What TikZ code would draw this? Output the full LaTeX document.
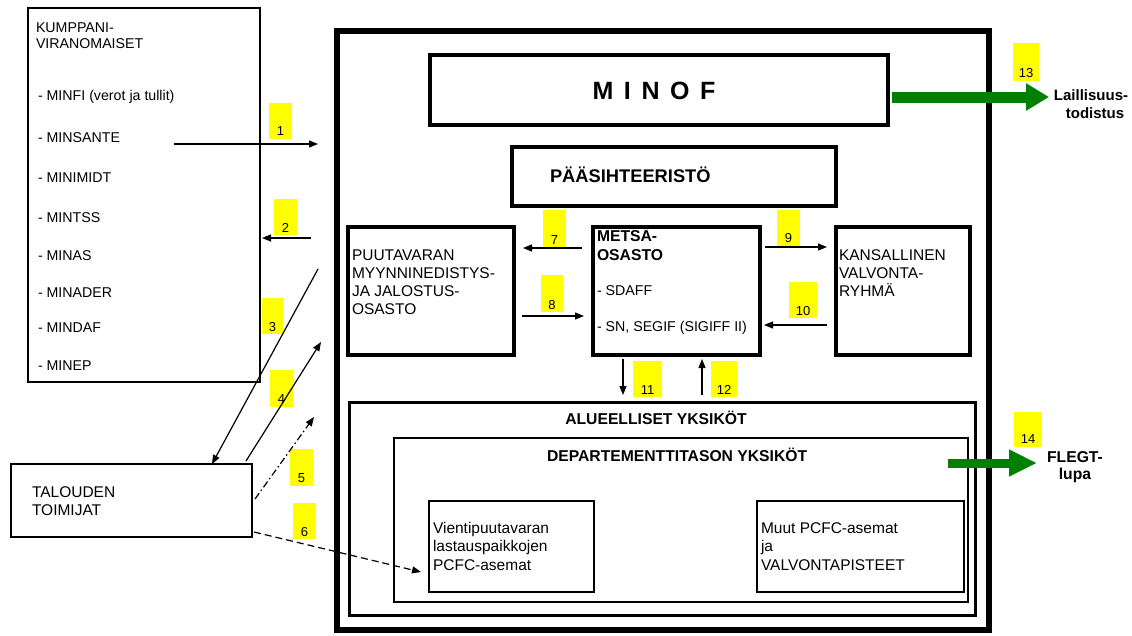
\documentclass[tikz,border=0pt]{standalone}
\usepackage{fontspec}
\setmainfont{Liberation Sans}
\usetikzlibrary{arrows.meta}
\definecolor{lblyellow}{RGB}{255,255,0}
\definecolor{flgreen}{RGB}{0,128,0}
\newcommand\mybx[6]{\node[box,line width=#6,minimum width={#4-#2},minimum height={#5-#3}] (#1) at (#2,#3) {};}
\newcommand\mylbl[6]{\node[lblbox,minimum width={#4-#2},minimum height={#5-#3}] (l#1) at (#2,#3) {};
  \node[numtxt] (n#1) at ({(#2+#4)/2},#6) {#1};}
\begin{document}
\begin{tikzpicture}[x=1pt,y=-1pt,
  box/.style={draw,inner sep=0,outer sep=0,anchor=north west},
  lblbox/.style={fill=lblyellow,draw=none,inner sep=0,outer sep=0,anchor=north west},
  numtxt/.style={inner sep=0,outer sep=0,anchor=base,font=\fontsize{13}{15}\selectfont},
  txt/.style={inner sep=0,outer sep=0,anchor=base west,font=\fontsize{15.5}{18}\selectfont},
  smtxt/.style={inner sep=0,outer sep=0,anchor=base west,font=\fontsize{14.2}{17}\selectfont},
  listtxt/.style={inner sep=0,outer sep=0,anchor=base west,font=\fontsize{14.2}{17}\selectfont},
  btxt/.style={inner sep=0,outer sep=0,anchor=base west,font=\fontsize{15.7}{18}\selectfont\bfseries},
  ctxt/.style={inner sep=0,outer sep=0,anchor=base,font=\fontsize{15.5}{18}\selectfont\bfseries},
  arr/.style={line width=1.2pt,-{Triangle[length=9pt,width=7pt]}},
  dasharr/.style={arr,dash pattern=on 7pt off 4pt},
  dotdasharr/.style={arr,dash pattern=on 7pt off 3pt on 1.5pt off 3pt},
]
\useasboundingbox (0,0) rectangle (1132,635);
% boxes
\mybx{kump}{28}{8}{260}{382}{1.2pt}
\mybx{outer}{337}{31}{989}{630}{5.5pt}
\mybx{minof}{430}{55}{888}{125}{4.5pt}
\mybx{paasi}{512}{147}{836}{206}{4pt}
\mybx{puu}{348}{227}{514}{355}{3.5pt}
\mybx{metsa}{593}{227}{760}{355}{3.5pt}
\mybx{kans}{836}{227}{970}{355}{3.5pt}
\mybx{alue}{349}{402}{975}{615}{3pt}
\mybx{dept}{394}{438}{968}{602}{2pt}
\mybx{vienti}{429}{501}{594}{592}{2pt}
\mybx{muut}{757}{501}{964}{592}{2pt}
\mybx{talo}{11}{464}{252}{537}{2pt}
% left list
\node[listtxt] (k1) at (36,32) {KUMPPANI-};
\node[listtxt] (k2) at (36,48) {VIRANOMAISET};
\node[listtxt] (k3) at (38,100) {- MINFI (verot ja tullit)};
\node[listtxt] (k4) at (38,142) {- MINSANTE};
\node[listtxt] (k5) at (38,182) {- MINIMIDT};
\node[listtxt] (k6) at (38,222) {- MINTSS};
\node[listtxt] (k7) at (38,260) {- MINAS};
\node[listtxt] (k8) at (38,297) {- MINADER};
\node[listtxt] (k9) at (38,332) {- MINDAF};
\node[listtxt] (k10) at (38,370) {- MINEP};
% main texts
\node[inner sep=0,outer sep=0,anchor=center,font=\fontsize{25}{28}\selectfont\bfseries] (tminof) at (654,91)
  {M\hspace{10.6pt}I\hspace{10.6pt}N\hspace{10.6pt}O\hspace{10.6pt}F};
\node[btxt,font=\fontsize{18.3}{20}\selectfont\bfseries] (tpaasi) at (550,182) {PÄÄSIHTEERISTÖ};
\node[btxt] (tm1) at (597,241) {METSÄ-};
\node[btxt] (tm2) at (597,260) {OSASTO};
\node[smtxt] (tm3) at (597,295) {- SDAFF};
\node[smtxt] (tm4) at (597,331) {- SN, SEGIF (SIGIFF II)};
\node[txt] (tp1) at (352,260) {PUUTAVARAN};
\node[txt] (tp2) at (352,278) {MYYNNINEDISTYS-};
\node[txt] (tp3) at (352,296) {JA JALOSTUS-};
\node[txt] (tp4) at (352,314) {OSASTO};
\node[txt] (tk1) at (839,260) {KANSALLINEN};
\node[txt] (tk2) at (839,278) {VALVONTA-};
\node[txt] (tk3) at (839,296) {RYHMÄ};
\node[ctxt,font=\fontsize{15.7}{18}\selectfont\bfseries] (talue) at (656,424) {ALUEELLISET YKSIKÖT};
\node[btxt] (tdept) at (547,461) {DEPARTEMENTTITASON YKSIKÖT};
\node[txt] (tv1) at (433,533) {Vientipuutavaran};
\node[txt] (tv2) at (433,551.5) {lastauspaikkojen};
\node[txt] (tv3) at (433,570) {PCFC-asemat};
\node[txt] (tu1) at (761,533) {Muut PCFC-asemat};
\node[txt] (tu2) at (761,551.5) {ja};
\node[txt] (tu3) at (761,570) {VALVONTAPISTEET};
\node[txt] (tt1) at (32,497) {TALOUDEN};
\node[txt] (tt2) at (32,515) {TOIMIJAT};
\node[ctxt,font=\fontsize{15}{18}\selectfont\bfseries] (tl1) at (1091,100) {Laillisuus-};
\node[ctxt,font=\fontsize{15}{18}\selectfont\bfseries] (tl2) at (1095,118) {todistus};
\node[ctxt,font=\fontsize{15.7}{18}\selectfont\bfseries] (tf1) at (1075,462) {FLEGT-};
\node[ctxt,font=\fontsize{15.7}{18}\selectfont\bfseries] (tf2) at (1075,479) {lupa};
% yellow labels
\mylbl{1}{269}{103}{292}{139}{135}
\mylbl{2}{274}{199}{297}{235}{232}
\mylbl{3}{262}{298}{283}{334}{331}
\mylbl{4}{270}{370}{293}{407}{403}
\mylbl{5}{290}{449}{313}{486}{482}
\mylbl{6}{293}{503}{316}{539}{536}
\mylbl{7}{543}{210}{566}{247}{244}
\mylbl{8}{541}{275}{563}{312}{309}
\mylbl{9}{777}{210}{800}{247}{242}
\mylbl{10}{789}{282}{817}{318}{315}
\mylbl{11}{633}{361}{662}{397}{394}
\mylbl{12}{711}{361}{737}{397}{394}
\mylbl{13}{1013}{43}{1039}{81}{77}
\mylbl{14}{1014}{412}{1042}{447}{443}
% arrow endpoints
\coordinate (a1s) at (174,144);  \coordinate (a1e) at (318,144);
\coordinate (a2s) at (311,238);  \coordinate (a2e) at (262,238);
\coordinate (a3s) at (318,269);  \coordinate (a3e) at (212,464);
\coordinate (a4s) at (246,461);  \coordinate (a4e) at (321,342);
\coordinate (a5s) at (255,499);  \coordinate (a5e) at (314,417);
\coordinate (a6s) at (254,532);  \coordinate (a6e) at (421,572);
\coordinate (a7s) at (582,248);  \coordinate (a7e) at (523,248);
\coordinate (a8s) at (522,316);  \coordinate (a8e) at (584,316);
\coordinate (a9s) at (765,247);  \coordinate (a9e) at (827,247);
\coordinate (a10s) at (827,325); \coordinate (a10e) at (764,325);
\coordinate (a11s) at (623,359); \coordinate (a11e) at (623,395);
\coordinate (a12s) at (702,395); \coordinate (a12e) at (702,359);
\coordinate (a13s) at (892,97);  \coordinate (a13e) at (1049,97);
\coordinate (a14s) at (948,463); \coordinate (a14e) at (1037,463);
\draw[arr] (a1s) -- (a1e);
\draw[arr] (a2s) -- (a2e);
\draw[arr] (a3s) -- (a3e);
\draw[arr] (a4s) -- (a4e);
\draw[dotdasharr] (a5s) -- (a5e);
\draw[dasharr] (a6s) -- (a6e);
\draw[arr] (a7s) -- (a7e);
\draw[arr] (a8s) -- (a8e);
\draw[arr] (a9s) -- (a9e);
\draw[arr] (a10s) -- (a10e);
\draw[arr] (a11s) -- (a11e);
\draw[arr] (a12s) -- (a12e);
\draw[flgreen,line width=11pt,-{Triangle[length=23pt,width=26pt]}] (a13s) -- (a13e);
\draw[flgreen,line width=9pt,-{Triangle[length=28pt,width=25pt]}] (a14s) -- (a14e);
\end{tikzpicture}
\end{document}
